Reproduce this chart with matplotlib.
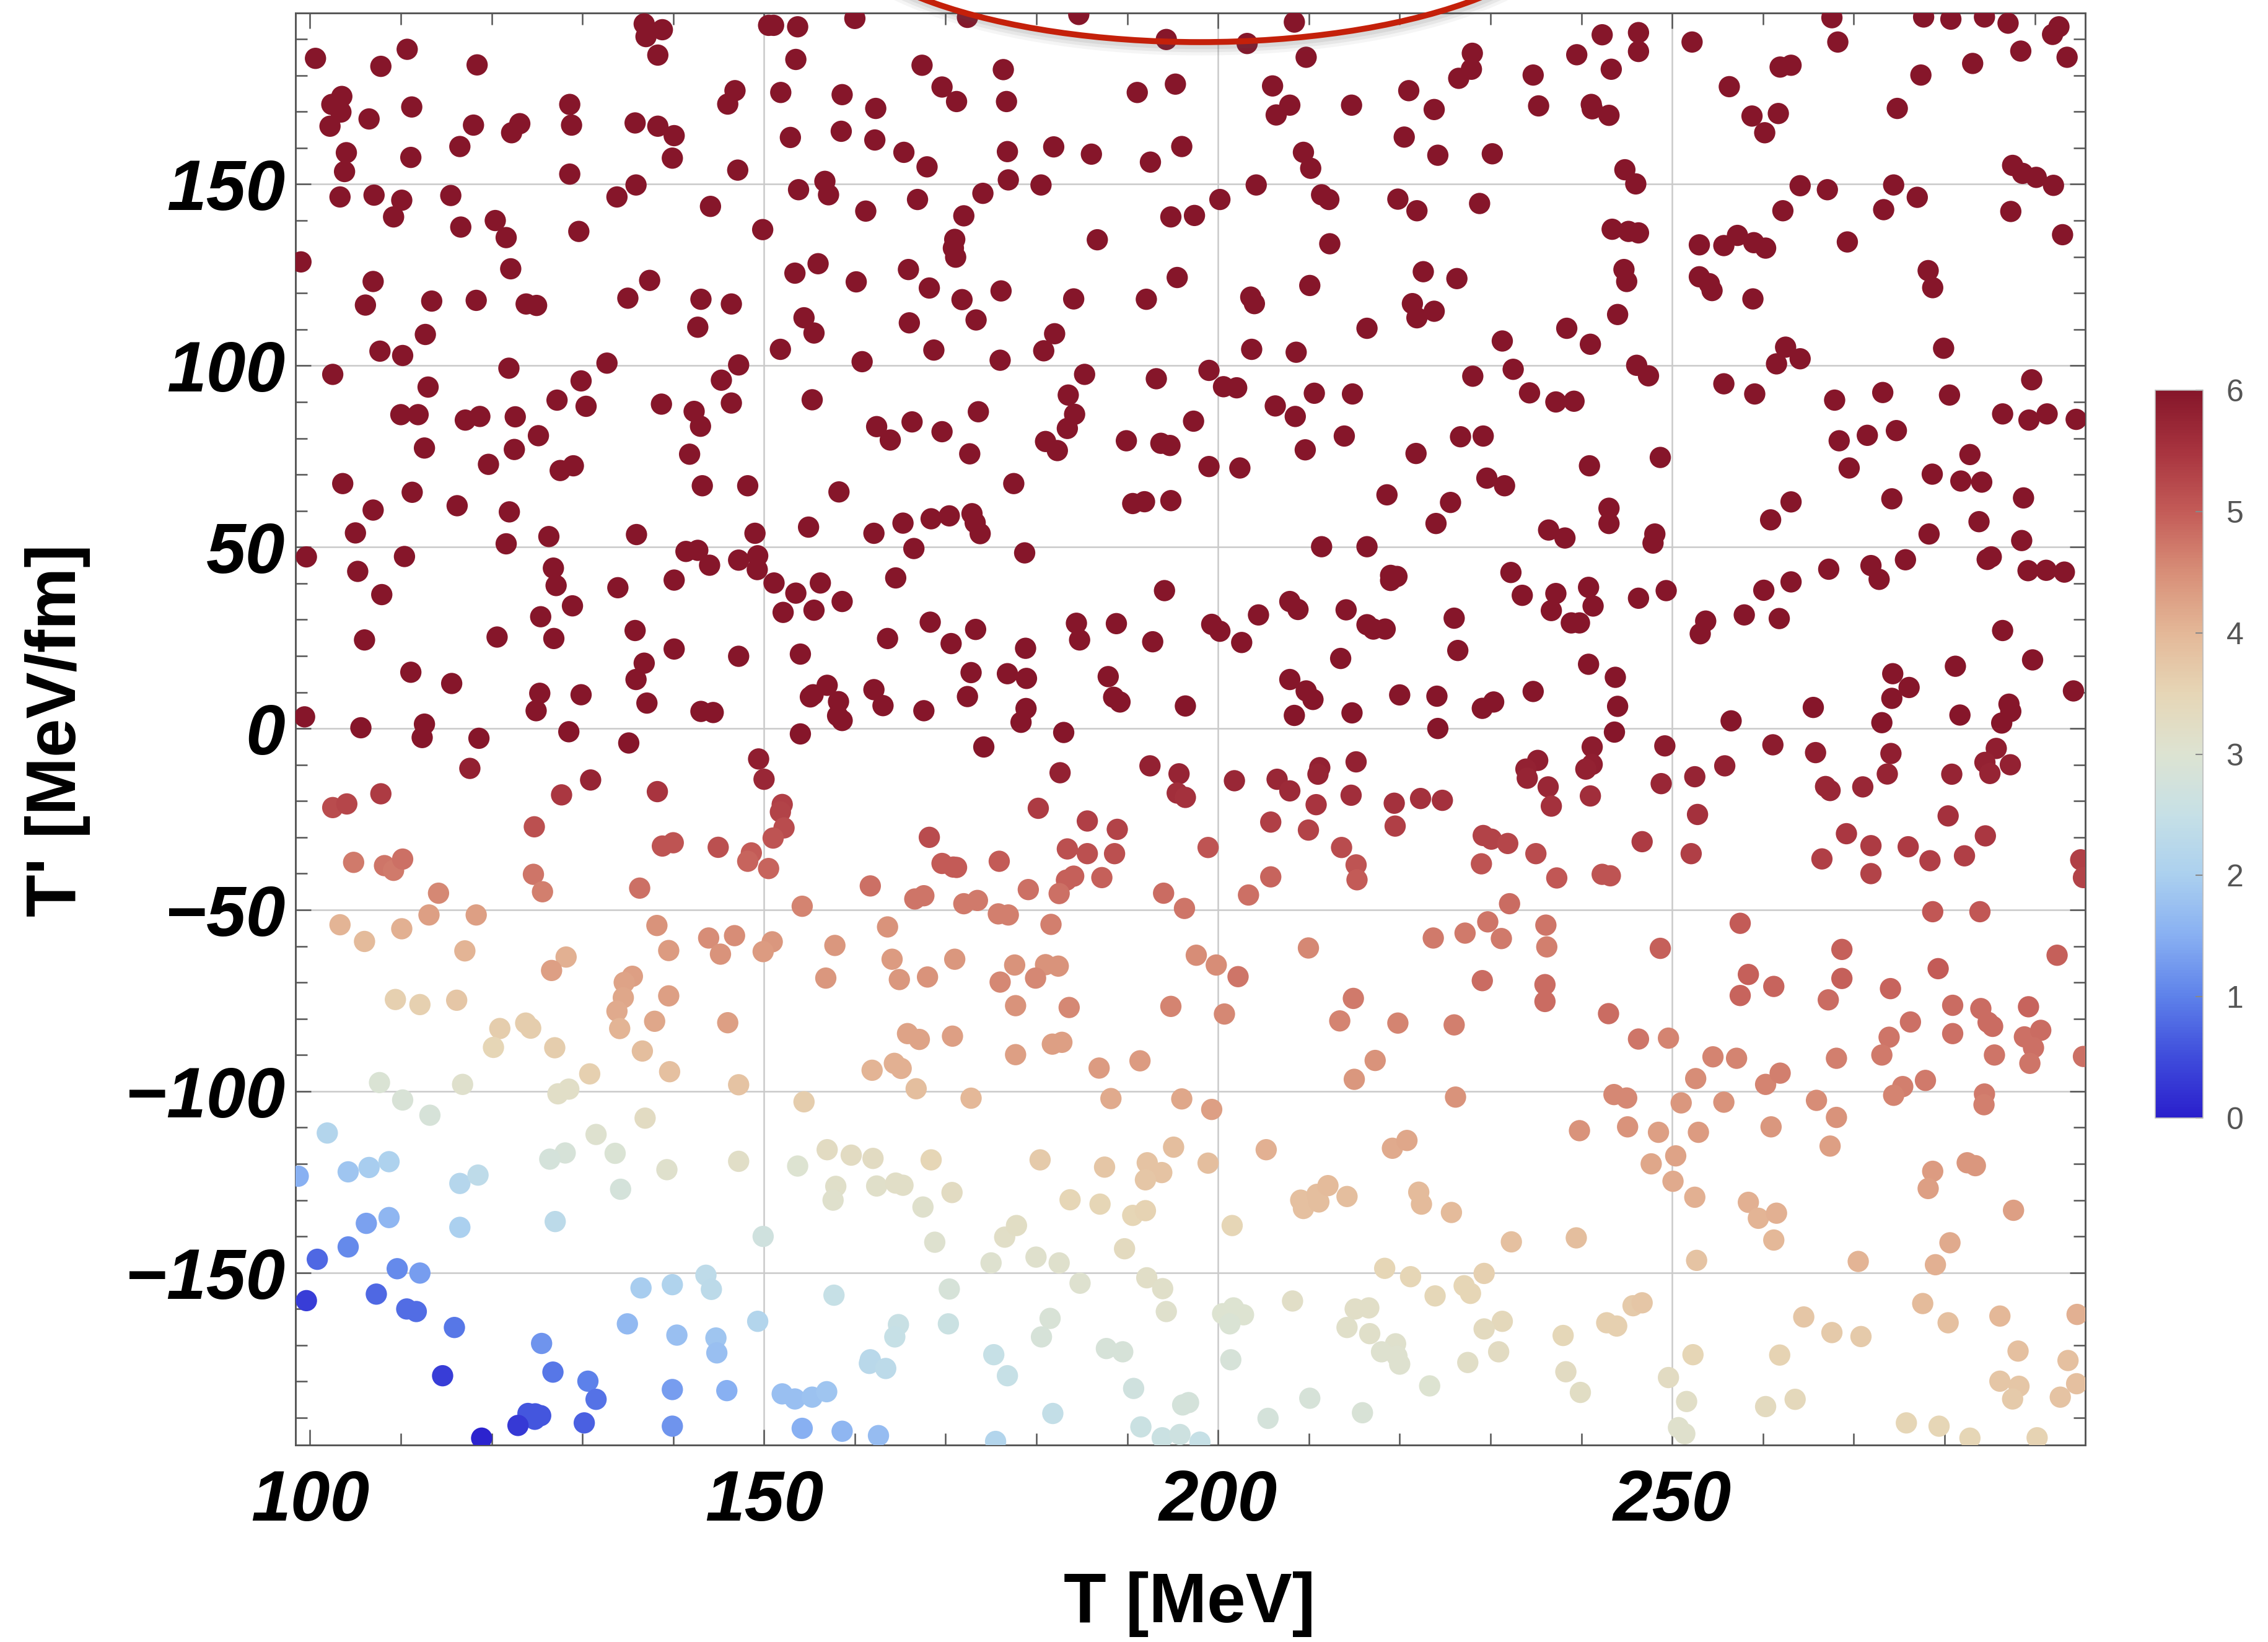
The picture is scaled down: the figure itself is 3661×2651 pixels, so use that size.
import matplotlib
matplotlib.use("Agg")
import numpy as np
import matplotlib.pyplot as plt
from matplotlib.colors import LinearSegmentedColormap, Normalize
from matplotlib.cm import ScalarMappable
from matplotlib.patches import Ellipse

# ---------------------------------------------------------------------------
# Sampled points (T in MeV, T' in MeV/fm).
# Upper set: colour value saturated at the top of the scale.
# ---------------------------------------------------------------------------
T_sat = [
    136.8, 138.8, 137.0, 138.3, 100.6, 110.7, 107.8, 118.4, 103.5, 102.4,
    103.4, 102.2, 106.5, 111.2, 118.0, 123.1, 122.2, 128.6, 128.8, 135.8,
    138.3, 140.1, 139.9, 146.8, 146.0, 104.0, 111.1, 116.5, 103.8, 128.6,
    147.1, 135.9, 103.3, 107.05, 110.1, 109.2, 115.5, 133.8, 144.1, 116.6,
    120.4, 121.6, 129.6, 99.0, 122.1, 106.95, 137.4, 106.1, 113.4, 118.3,
    123.8, 124.95, 135.0, 143.05, 146.4, 142.7, 112.7, 107.7, 110.2, 102.5,
    121.9, 132.7, 147.2, 113.0, 129.85, 145.3, 127.2, 130.4, 138.7, 146.4,
    110.0, 111.9, 117.1, 118.7, 122.6, 142.3, 143.0, 125.15, 112.6, 122.5,
    141.8, 119.65, 127.55, 129.0, 103.6, 143.2,
    150.5, 151.05, 153.7, 160.0, 172.4, 184.66, 194.3, 153.5, 167.4, 176.35,
    169.6, 171.2, 176.7, 151.84, 158.6, 162.3, 191.1, 195.3, 152.9, 158.5,
    162.2, 165.4, 167.95, 176.8, 181.9, 186.05, 192.55, 196.0, 176.9, 180.5,
    153.8, 156.7, 157.1, 161.2, 166.9, 174.1, 172.0, 194.8, 149.85, 171.0,
    170.85, 171.1, 186.7, 153.4, 155.95, 160.15, 165.9, 168.2, 171.8, 176.1,
    184.1, 192.1, 195.5, 154.4, 155.5, 166.0, 173.35, 182.0, 180.8, 151.8,
    160.8, 168.7, 176.0, 185.3, 193.2, 155.3, 183.5, 184.2, 183.4, 173.6,
    162.4, 163.9, 166.3, 169.6, 172.65, 181.0, 182.3, 189.9, 193.7, 194.7,
    148.2, 177.5,
    208.4, 203.2, 209.7, 206.0, 207.9, 206.4, 214.7, 221.0, 223.8, 228.0,
    227.9, 226.5, 234.7, 235.3, 239.5, 242.3, 243.3, 246.3, 246.3, 241.1,
    241.2, 243.05, 220.5, 224.2, 230.2, 209.4, 210.2, 204.2, 200.2, 197.4,
    211.4, 212.2, 219.8, 221.9, 228.8, 244.8, 246.0, 212.3, 243.4, 245.2,
    246.3, 222.6, 226.3, 244.7, 245.0, 203.6, 204.0, 210.1, 221.4, 221.9,
    223.8, 244.0, 216.4, 238.4, 241.0, 231.3, 203.7, 208.6, 199.0, 200.6,
    202.05, 210.6, 214.8, 228.05, 232.5, 234.3, 237.2, 239.2, 246.1, 197.3,
    206.3, 208.5, 213.9, 209.6, 226.7, 229.2, 221.8, 240.9, 199.0, 202.4,
    229.6, 231.55,
    252.2, 267.6, 268.25, 277.7, 280.7, 284.4, 287.0, 291.9, 292.6, 288.4,
    293.5, 283.1, 277.4, 261.9, 263.1, 256.3, 258.8, 261.7, 260.2, 274.8,
    287.5, 288.6, 290.1, 292.0, 264.1, 267.1, 274.4, 277.0, 262.2, 273.3,
    287.3, 293.0, 253.0, 255.7, 257.2, 259.0, 260.3, 269.3, 253.0, 254.1,
    254.4, 258.9, 278.2, 278.7, 262.5, 264.1, 261.5, 279.9, 247.4, 255.7,
    259.1, 267.9, 273.2, 280.55, 289.6, 286.4, 289.3, 291.3, 294.5, 268.4,
    271.5, 274.7, 248.7, 269.5, 282.8, 278.65, 281.8, 284.1,
    111.25, 106.95, 116.2, 121.95, 105.0, 121.6, 126.3, 135.95, 99.6, 110.4,
    105.25, 126.8, 127.1, 133.9, 141.4, 142.7, 144.0, 140.1, 147.2, 107.9,
    128.9, 125.4, 106.0, 120.6, 126.85, 135.8, 140.1, 147.2, 111.1, 115.6,
    136.8, 135.9, 125.3, 124.9, 129.85, 137.1, 143.05, 144.4, 99.4, 105.6,
    112.6, 112.35, 118.6, 128.5, 135.1,
    158.25, 190.6, 191.9, 194.8, 149.0, 154.9, 162.1, 165.3, 168.4, 170.4,
    172.9, 173.25, 173.8, 166.5, 178.7, 149.3, 149.25, 151.1, 153.5, 156.2,
    152.1, 155.5, 158.6, 164.5, 194.1, 168.3, 173.3, 170.6, 163.6, 184.4,
    184.75, 188.8, 192.8, 178.8, 154.0, 172.8, 176.8, 178.9, 187.9, 188.5,
    189.2, 196.4, 156.95, 155.4, 155.1, 158.2, 158.1, 158.6, 162.1, 163.1,
    167.6, 172.4, 178.85, 178.3, 154.0, 183.0, 174.2,
    218.6, 225.6, 224.0, 243.05, 243.05, 236.4, 238.2, 211.4, 216.4, 232.25,
    219.0, 219.7, 219.0, 233.5, 237.2, 236.7, 240.8, 241.3, 238.9, 239.8,
    246.3, 207.9, 208.8, 204.45, 214.1, 199.3, 200.2, 202.6, 216.4, 217.1,
    218.4, 226.0, 226.4, 213.5, 240.8, 243.75, 244.0, 243.65, 207.9, 209.7,
    210.45, 208.4, 214.75, 220.0, 224.1, 224.2, 229.1, 230.35, 234.7,
    263.1, 260.85, 274.2, 288.7, 283.8, 278.3, 288.5, 248.1, 247.9, 249.35,
    275.7, 267.25, 271.9, 272.8, 284.7, 285.15, 289.2, 291.2, 293.2, 260.1,
    263.1, 253.7, 253.1, 257.95, 261.8, 286.4, 289.7, 281.2, 274.3, 276.1,
    274.2, 294.2, 265.55, 256.5, 273.1, 281.7, 287.1, 287.3, 286.3,
]
Tp_sat = [
    194.2, 192.6, 190.7, 185.6, 184.7, 187.2, 182.5, 182.9, 174.2, 172.0,
    169.9, 166.0, 168.0, 171.3, 166.3, 166.7, 164.2, 172.0, 166.3, 166.9,
    166.0, 163.4, 157.2, 175.8, 172.1, 158.7, 157.4, 160.4, 153.5, 152.8,
    153.9, 149.8, 146.5, 147.0, 145.6, 141.0, 146.9, 146.5, 143.9, 138.2,
    140.0, 135.3, 137.0, 128.6, 126.7, 123.2, 123.5, 116.7, 117.8, 118.0,
    117.0, 116.6, 118.6, 118.3, 117.0, 110.6, 108.6, 104.0, 102.8, 97.6,
    99.3, 100.7, 100.2, 94.1, 95.8, 96.0, 90.5, 88.8, 89.4, 89.7,
    86.5, 86.5, 85.0, 86.0, 85.9, 87.4, 83.3, 80.7, 77.3, 76.9,
    75.6, 72.8, 71.1, 72.4, 67.5, 66.9,
    193.8, 193.8, 193.4, 195.7, 196.0, 196.8, 189.9, 184.4, 182.8, 181.6,
    176.8, 172.8, 172.8, 175.3, 174.7, 170.9, 175.3, 177.6, 162.9, 164.6,
    162.2, 158.8, 154.8, 159.0, 160.3, 158.3, 156.1, 160.4, 151.2, 149.8,
    148.5, 150.8, 147.1, 142.6, 145.8, 147.5, 141.3, 141.0, 137.5, 134.8,
    132.4, 129.9, 134.7, 125.5, 128.1, 123.1, 126.5, 121.4, 118.2, 120.6,
    118.4, 118.3, 124.3, 113.2, 109.0, 111.8, 112.6, 108.8, 104.1, 104.5,
    101.1, 104.3, 101.5, 97.6, 96.4, 90.6, 91.9, 86.6, 82.7, 87.3,
    83.2, 79.5, 84.5, 81.8, 75.7, 79.1, 76.6, 79.3, 78.6, 78.0,
    66.9, 67.5,
    194.7, 188.8, 185.0, 177.1, 171.8, 169.1, 171.8, 175.8, 170.6, 186.1,
    181.7, 179.2, 180.1, 171.6, 185.7, 191.2, 181.7, 191.8, 186.6, 172.0,
    170.8, 169.0, 163.0, 158.0, 158.4, 158.8, 154.4, 149.8, 145.8, 141.4,
    147.1, 145.8, 145.9, 142.7, 144.7, 154.0, 150.1, 133.6, 137.6, 137.0,
    136.6, 125.9, 124.0, 126.5, 123.2, 118.9, 117.1, 122.1, 117.1, 113.2,
    115.0, 114.1, 110.3, 110.3, 105.9, 106.8, 104.5, 103.7, 98.7, 94.2,
    93.9, 92.4, 92.2, 97.1, 99.0, 92.5, 90.0, 90.2, 100.1, 84.7,
    88.9, 86.0, 80.6, 76.8, 80.4, 80.6, 75.8, 72.4, 72.2, 71.8,
    69.0, 66.9,
    189.2, 195.9, 189.2, 196.1, 195.5, 196.1, 194.4, 191.3, 193.4, 186.7,
    185.0, 183.3, 180.1, 182.3, 182.8, 176.9, 168.8, 169.5, 164.2, 170.9,
    155.2, 153.0, 151.9, 149.7, 149.6, 148.5, 149.8, 146.4, 142.7, 143.0,
    142.5, 136.1, 133.3, 133.1, 135.9, 133.9, 132.4, 134.1, 124.5, 122.6,
    120.7, 118.4, 126.2, 121.5, 105.1, 101.9, 100.5, 104.8, 97.2, 95.0,
    92.2, 90.5, 92.6, 91.9, 96.1, 86.7, 85.0, 86.7, 85.2, 79.3,
    80.8, 82.1, 74.7, 71.8, 75.5, 70.1, 68.2, 67.9,
    65.1, 60.2, 61.4, 59.7, 53.9, 50.9, 52.9, 53.45, 47.3, 47.4,
    43.3, 44.2, 39.4, 38.8, 48.8, 49.1, 45.0, 40.9, 46.4, 36.9,
    33.8, 30.8, 24.4, 25.2, 24.8, 27.0, 21.9, 19.9, 15.5, 12.4,
    18.0, 13.5, 9.7, 4.9, 9.3, 7.0, 4.7, 4.4, 3.2, 0.2,
    1.2, -2.5, -2.7, -0.9, -4.0,
    65.2, 62.0, 62.5, 62.8, 53.8, 55.5, 53.8, 56.6, 57.8, 58.6,
    59.2, 56.7, 53.7, 49.6, 48.4, 47.6, 43.8, 40.1, 37.3, 40.1,
    32.0, 32.6, 35.0, 41.5, 38.0, 29.3, 27.3, 23.4, 24.8, 29.0,
    24.4, 28.9, 23.9, 22.1, 20.5, 15.4, 15.1, 13.8, 14.3, 8.6,
    7.3, 6.2, 11.9, 9.3, 8.7, 7.4, 3.5, 2.2, 10.7, 6.3,
    4.9, 8.8, 5.5, 1.7, -1.5, -1.1, -5.1,
    64.4, 62.3, 56.5, 60.7, 56.5, 54.7, 52.5, 50.1, 50.1, 43.0,
    42.2, 41.9, 40.8, 36.7, 37.2, 32.5, 38.9, 33.75, 29.1, 29.1,
    35.9, 35.0, 32.8, 31.3, 32.7, 28.7, 26.8, 23.7, 28.6, 27.4,
    27.4, 30.4, 21.5, 19.3, 17.7, 14.1, 6.1, -1.0, 13.5, 10.35,
    8.0, 3.6, 4.3, 9.25, 8.9, 0.0, 5.55, 7.3, 10.2,
    62.45, 57.5, 63.3, 63.55, 57.0, 53.6, 51.8, 53.6, 51.1, 38.0,
    46.5, 43.9, 44.9, 41.1, 46.6, 47.3, 43.5, 43.6, 43.1, 38.1,
    40.4, 29.6, 26.1, 31.3, 30.3, 27.0, 18.9, 17.15, 15.1, 11.3,
    8.3, 10.35, 5.8, 2.1, 1.6, 3.7, 6.7, 4.7, 1.5,
]
C_SAT = 6.0

# Lower set: points with an individual colour value.
T_low = [
    117.6, 130.9, 107.8, 102.5, 104.05, 127.7, 138.25, 124.7, 138.8, 140.0,
    144.95, 104.8, 108.2, 109.2, 110.2, 124.6, 125.6, 114.15, 136.3, 103.3,
    106.0, 110.1, 113.1, 118.3, 117.05, 128.2, 138.2, 139.5, 143.9, 145.2,
    146.75,
    149.4, 150.0, 182.6, 192.5, 195.7, 195.5, 196.4, 152.0, 151.8, 152.2,
    151.0, 148.6, 148.2, 150.5, 180.2, 185.6, 188.9, 183.4, 185.6, 188.6,
    168.2, 169.6, 170.85, 171.2, 175.9, 183.3, 184.1, 187.2, 161.7, 166.6,
    167.6, 179.1, 182.5, 194.0, 196.3, 154.2, 172.0, 173.5, 175.8, 176.9,
    181.6, 163.6, 150.9, 149.9, 157.8, 164.1, 171.0, 177.6, 181.0, 182.4,
    241.2, 235.2, 233.9, 234.05, 241.2, 240.5, 236.35, 241.0, 236.7, 215.2,
    211.2, 211.0, 201.8, 206.5, 207.9, 210.8, 214.65, 219.4, 222.3, 224.7,
    219.5, 205.8, 209.95, 198.9, 213.6, 215.2, 215.3, 229.2, 230.1, 231.9,
    235.0, 229.0, 237.3, 242.3, 243.2, 205.8, 203.35, 232.1, 229.7, 227.2,
    223.7, 231.2, 236.1, 236.2, 209.95, 197.6, 199.8,
    249.2, 261.1, 265.8, 274.1, 285.7, 284.45, 285.0, 287.25, 280.8, 273.7,
    255.8, 252.5, 248.8, 266.9, 267.4, 271.0, 252.8, 280.4, 246.7, 252.1,
    269.2, 271.9, 276.0, 284.5, 282.2, 278.4, 266.5, 271.9, 295.0, 295.3,
    257.5, 278.7, 283.9, 248.7, 268.7, 292.4,
    126.6, 135.5, 134.6, 134.5, 133.8, 134.1, 139.5, 137.95, 146.0, 109.4,
    112.1, 116.15, 120.9, 123.75, 124.3, 120.2, 126.95, 136.6, 139.6, 130.8,
    147.2, 107.65, 116.8, 110.2, 113.2, 127.3, 128.5, 101.9, 136.9, 131.5,
    133.6, 128.1, 126.4, 139.3, 147.2, 134.2, 98.7, 104.2, 106.5, 108.7,
    116.5, 118.5, 127.0, 106.2, 108.7, 116.5, 104.2, 100.8, 109.6, 112.1,
    99.6, 107.3, 110.65, 111.7, 115.9, 125.5, 114.6, 126.75, 130.6, 131.5,
    124.0, 124.8, 125.4, 124.75, 122.9, 118.9, 130.2, 136.45, 139.9, 143.6,
    144.2, 134.95, 140.4, 144.7, 144.8, 139.9, 145.9, 139.9,
    156.8, 164.9, 168.0, 176.0, 179.9, 177.7, 183.6, 194.8, 165.8, 167.1,
    170.75, 177.7, 181.75, 182.8, 186.9, 191.4, 161.9, 164.35, 165.1, 166.75,
    154.4, 172.8, 188.2, 196.0, 195.1, 153.7, 156.95, 159.6, 162.0, 168.4,
    180.4, 187.5, 192.2, 193.8, 192.0, 157.9, 157.6, 162.4, 164.5, 165.3,
    167.5, 170.7, 183.7, 187.0, 190.6, 192.0, 149.9, 168.8, 176.5, 177.8,
    189.7, 175.0, 179.95, 182.5, 184.8, 192.15, 193.9, 194.3, 157.7, 170.4,
    149.3, 164.8, 164.4, 170.3, 181.5, 180.55, 187.7, 189.5, 161.7, 161.6,
    163.4, 175.3, 176.8, 190.7, 196.1, 196.75, 152.0, 153.4, 155.3, 156.9,
    154.2, 158.6, 162.6, 175.5, 181.8, 191.5, 193.85, 195.8,
    202.2, 200.7, 214.9, 213.4, 219.8, 226.0, 229.1, 236.0, 236.0, 243.0,
    246.3, 217.3, 215.0, 226.15, 243.6, 245.0, 239.8, 245.1, 199.3, 205.3,
    198.9, 219.2, 220.8, 209.1, 209.4, 210.9, 211.1, 212.1, 214.2, 222.1,
    222.4, 225.7, 201.55, 232.3, 239.45, 218.35, 221.2, 229.3, 227.1, 227.8,
    223.9, 208.2, 200.5, 201.7, 202.8, 201.3, 215.1, 216.6, 214.2, 216.7,
    219.55, 218.0, 219.7, 220.0, 245.7, 242.8, 243.9, 231.3, 229.3, 230.9,
    238.0, 227.5, 238.3, 239.9, 201.4, 223.3, 210.1, 205.5, 215.9, 198.0,
    258.4, 279.3, 257.5, 261.2, 268.7, 267.2, 274.05, 280.9, 284.0, 284.8,
    285.3, 289.25, 280.9, 276.25, 273.9, 273.1, 288.8, 290.6, 289.8, 289.4,
    285.5, 295.3, 249.6, 254.5, 257.1, 252.6, 260.3, 261.9, 268.1, 275.4,
    274.4, 277.9, 284.4, 284.35, 251.0, 255.7, 265.9, 268.1, 260.9, 248.5,
    252.9, 267.4, 247.7, 250.4, 250.1, 252.5, 258.4, 259.5, 261.5, 261.2,
    278.7, 278.2, 282.5, 283.4, 287.6, 280.6, 279.0, 270.5, 252.7, 246.7,
    264.5, 267.6, 270.8, 277.6, 280.4, 286.1, 294.6, 288.1, 293.6, 286.1,
    288.2, 287.5, 292.75, 294.55, 252.3, 261.85, 249.6, 251.6, 260.3, 263.55,
    250.7, 251.4, 275.8, 279.4, 282.8, 290.2,
]
Tp_low = [
    -11.0, -14.2, -18.0, -21.8, -20.8, -18.3, -17.4, -27.1, -32.4, -31.5,
    -32.75, -36.9, -37.8, -39.1, -36.0, -40.2, -45.0, -45.4, -44.0, -54.1,
    -58.7, -55.2, -51.4, -51.4, -61.3, -63.0, -54.3, -61.2, -57.75, -62.2,
    -57.1,
    -8.4, -14.0, -12.2, -10.3, -12.5, -17.8, -19.0, -20.95, -23.0, -27.4,
    -30.2, -34.3, -36.6, -38.6, -22.0, -25.5, -27.8, -33.2, -34.5, -34.5,
    -30.0, -37.2, -38.2, -38.3, -36.6, -41.8, -40.7, -41.1, -43.4, -47.0,
    -46.1, -44.4, -45.5, -45.4, -49.6, -49.0, -48.3, -47.4, -51.1, -51.4,
    -54.0, -54.7, -58.8, -61.5, -59.8, -63.6, -63.6, -65.2, -65.1, -65.5,
    -5.1, -8.8, -11.2, -13.7, -9.9, -11.2, -16.1, -18.6, -21.4, -9.2,
    -10.8, -12.6, -14.4, -14.0, -17.2, -21.0, -18.4, -20.6, -19.3, -19.8,
    -26.9, -25.8, -28.0, -32.8, -32.8, -37.6, -41.7, -29.5, -30.5, -31.7,
    -34.5, -37.3, -41.2, -40.2, -40.6, -40.9, -45.9, -48.3, -53.3, -56.4,
    -57.75, -57.9, -54.2, -60.2, -60.5, -62.5, -65.2,
    -4.8, -4.5, -6.65, -6.9, -5.5, -9.35, -12.4, -10.0, -12.6, -12.55,
    -10.3, -13.3, -15.2, -16.0, -17.1, -16.1, -23.7, -24.1, -31.2, -34.5,
    -29.0, -32.3, -32.6, -29.6, -35.1, -36.45, -35.95, -40.0, -36.2, -41.1,
    -53.7, -50.5, -50.5, -60.6, -60.9, -62.5,
    -66.7, -68.3, -70.0, -74.2, -77.9, -82.7, -73.7, -80.7, -81.1, -74.7,
    -76.1, -74.9, -82.7, -81.2, -82.6, -87.9, -88.0, -88.9, -94.6, -95.2,
    -98.2, -97.6, -98.1, -102.4, -106.6, -100.7, -99.4, -111.5, -107.4, -111.9,
    -117.1, -117.0, -118.7, -121.6, -119.3, -127.0, -123.4, -122.2, -121.0, -119.4,
    -125.4, -123.1, -135.9, -136.4, -134.8, -137.5, -142.9, -146.3, -148.9, -150.1,
    -157.7, -155.9, -160.0, -160.7, -165.1, -169.5, -178.4, -177.4, -179.9, -184.9,
    -188.8, -188.9, -189.4, -190.4, -192.1, -195.6, -191.4, -154.2, -153.3, -150.7,
    -154.6, -164.1, -167.2, -168.0, -172.1, -182.2, -182.5, -192.3,
    -68.8, -69.2, -68.5, -69.9, -68.8, -76.4, -76.9, -76.6, -84.1, -85.7,
    -84.8, -89.9, -87.0, -86.5, -93.6, -91.6, -94.2, -92.3, -93.7, -99.3,
    -102.9, -101.9, -102.0, -102.1, -115.4, -120.6, -116.1, -117.6, -118.5, -118.9,
    -118.9, -120.9, -119.7, -122.4, -124.4, -126.2, -130.0, -126.1, -125.3, -125.9,
    -131.9, -127.9, -129.9, -131.1, -134.2, -132.9, -140.0, -141.6, -140.2, -137.0,
    -143.4, -147.3, -145.7, -147.3, -152.9, -151.4, -154.4, -160.7, -156.2, -154.5,
    -163.4, -164.3, -167.7, -164.1, -162.6, -167.7, -170.9, -171.8, -174.0, -175.0,
    -176.4, -172.6, -178.4, -181.9, -186.45, -185.8, -183.4, -184.8, -184.3, -182.8,
    -192.9, -193.7, -194.9, -196.5, -188.8, -192.5, -195.5, -194.6,
    -68.4, -78.7, -74.4, -80.6, -81.2, -81.7, -69.5, -70.6, -75.25, -78.6,
    -85.6, -91.5, -96.7, -101.6, -100.9, -101.85, -110.85, -109.8, -105.0, -116.1,
    -119.8, -115.7, -113.55, -130.0, -132.3, -128.4, -130.5, -126.0, -129.0, -127.8,
    -131.1, -133.4, -137.0, -141.5, -140.4, -148.8, -151.1, -150.2, -153.6, -155.7,
    -156.4, -157.8, -161.3, -159.7, -161.6, -164.1, -160.0, -159.7, -165.1, -166.8,
    -169.6, -171.8, -173.0, -175.2, -159.1, -163.8, -164.7, -163.4, -165.5, -171.8,
    -167.3, -174.75, -177.3, -183.0, -174.0, -181.2, -184.6, -190.15, -188.6, -196.7,
    -67.8, -66.2, -73.6, -71.1, -68.9, -74.8, -71.7, -76.3, -77.2, -81.0,
    -82.1, -76.7, -84.1, -80.9, -85.1, -90.0, -85.0, -83.2, -88.0, -92.3,
    -90.0, -90.4, -85.35, -90.5, -90.9, -96.5, -98.1, -95.0, -90.9, -98.7,
    -101.1, -97.0, -100.75, -103.7, -103.2, -103.0, -102.5, -107.2, -109.8, -111.3,
    -111.3, -115.1, -120.0, -117.8, -124.8, -129.2, -130.6, -135.0, -133.6, -141.0,
    -122.05, -126.8, -119.7, -120.5, -132.8, -141.75, -147.8, -146.9, -146.6, -158.3,
    -162.2, -166.5, -167.6, -158.5, -163.8, -161.95, -161.5, -171.6, -174.2, -179.9,
    -181.3, -184.8, -184.3, -180.6, -172.6, -172.7, -178.9, -185.5, -186.9, -184.9,
    -192.7, -194.4, -191.4, -192.3, -195.6, -195.5,
]
C_low = [
    5.8, 5.75, 5.4, 5.2, 5.25, 5.45, 5.5, 5.15, 5.1, 5.1,
    5.15, 4.7, 4.75, 4.7, 4.8, 4.75, 4.65, 4.55, 4.8, 4.05,
    3.95, 4.1, 4.3, 4.3, 4.05, 4.1, 4.45, 4.35, 4.5, 4.45,
    4.5,
    5.85, 5.7, 5.8, 5.8, 5.75, 5.6, 5.55, 5.35, 5.3, 5.2,
    5.1, 5.0, 4.9, 4.9, 5.4, 5.35, 5.3, 5.15, 5.15, 5.15,
    5.2, 5.0, 5.0, 5.0, 5.0, 4.95, 4.95, 4.95, 4.8, 4.75,
    4.75, 4.8, 4.8, 4.85, 4.75, 4.6, 4.7, 4.7, 4.65, 4.65,
    4.65, 4.45, 4.4, 4.35, 4.4, 4.35, 4.4, 4.45, 4.45, 4.45,
    5.9, 5.85, 5.8, 5.75, 5.85, 5.8, 5.7, 5.6, 5.55, 5.8,
    5.8, 5.75, 5.7, 5.7, 5.65, 5.5, 5.6, 5.55, 5.55, 5.55,
    5.35, 5.35, 5.3, 5.1, 5.2, 5.1, 5.0, 5.3, 5.3, 5.25,
    5.2, 5.1, 5.05, 5.1, 5.1, 4.9, 4.8, 4.85, 4.75, 4.7,
    4.7, 4.7, 4.75, 4.65, 4.55, 4.5, 4.5,
    5.9, 5.9, 5.85, 5.85, 5.85, 5.8, 5.75, 5.8, 5.75, 5.75,
    5.8, 5.75, 5.7, 5.7, 5.7, 5.7, 5.55, 5.55, 5.4, 5.35,
    5.45, 5.4, 5.4, 5.45, 5.35, 5.35, 5.35, 5.3, 5.35, 5.3,
    5.0, 5.05, 5.05, 4.95, 4.95, 4.95,
    4.3, 4.3, 4.25, 4.2, 4.15, 4.05, 4.3, 4.2, 4.3, 3.6,
    3.6, 3.75, 3.65, 3.65, 3.65, 3.5, 3.65, 3.9, 3.85, 3.6,
    3.8, 2.95, 3.1, 2.9, 2.85, 3.2, 3.2, 2.15, 3.3, 3.05,
    2.95, 2.85, 2.8, 3.1, 3.2, 2.8, 1.5, 1.85, 1.95, 2.05,
    2.2, 2.35, 2.3, 1.35, 1.6, 2.0, 1.1, 0.75, 1.1, 1.3,
    0.35, 0.75, 0.8, 0.8, 0.9, 1.2, 0.35, 0.9, 1.0, 0.85,
    0.6, 0.6, 0.6, 0.6, 0.3, 0.05, 0.7, 1.95, 2.1, 2.35,
    2.3, 1.65, 1.75, 1.85, 1.75, 1.3, 1.5, 1.2,
    4.4, 4.4, 4.45, 4.55, 4.55, 4.45, 4.55, 4.6, 4.25, 4.25,
    4.3, 4.3, 4.3, 4.3, 4.35, 4.35, 4.05, 4.1, 4.1, 3.9,
    3.65, 4.0, 4.15, 4.2, 3.9, 3.0, 3.3, 3.3, 3.3, 3.5,
    3.7, 3.75, 3.8, 3.8, 3.75, 3.15, 3.1, 3.15, 3.2, 3.2,
    3.1, 3.3, 3.5, 3.5, 3.5, 3.55, 2.7, 3.05, 3.2, 3.25,
    3.35, 3.05, 3.1, 3.1, 3.05, 3.2, 3.15, 3.1, 2.5, 2.85,
    2.15, 2.55, 2.5, 2.6, 2.9, 2.85, 2.85, 2.85, 2.25, 2.25,
    2.3, 2.5, 2.5, 2.7, 2.8, 2.8, 1.75, 1.75, 1.8, 1.85,
    1.5, 1.6, 1.7, 2.15, 2.45, 2.6, 2.6, 2.65,
    4.75, 4.55, 4.7, 4.6, 4.6, 4.65, 4.85, 4.85, 4.85, 4.85,
    4.75, 4.45, 4.4, 4.45, 4.55, 4.55, 4.45, 4.45, 4.3, 4.1,
    3.9, 4.15, 4.2, 3.85, 3.85, 3.9, 3.9, 3.95, 3.9, 3.95,
    3.95, 3.95, 3.5, 3.85, 3.9, 3.5, 3.5, 3.6, 3.5, 3.5,
    3.45, 3.2, 3.0, 3.0, 3.0, 2.95, 3.2, 3.2, 3.15, 3.15,
    3.1, 3.05, 3.05, 3.05, 3.7, 3.6, 3.6, 3.4, 3.35, 3.3,
    3.45, 3.2, 3.3, 3.25, 2.85, 3.0, 2.85, 2.8, 2.9, 2.5,
    4.95, 5.0, 4.9, 4.9, 4.95, 4.85, 4.9, 4.85, 4.85, 4.85,
    4.85, 4.9, 4.8, 4.8, 4.75, 4.7, 4.8, 4.85, 4.8, 4.75,
    4.75, 4.8, 4.6, 4.6, 4.6, 4.5, 4.6, 4.65, 4.65, 4.65,
    4.6, 4.7, 4.7, 4.65, 4.4, 4.45, 4.5, 4.45, 4.4, 4.3,
    4.35, 4.3, 4.2, 4.25, 4.15, 4.1, 4.1, 4.05, 4.1, 4.0,
    4.35, 4.3, 4.4, 4.4, 4.3, 4.15, 4.1, 4.05, 3.8, 3.75,
    3.75, 3.7, 3.7, 3.95, 3.85, 4.0, 4.1, 3.85, 3.85, 3.75,
    3.75, 3.7, 3.8, 3.85, 3.5, 3.55, 3.3, 3.2, 3.35, 3.4,
    3.1, 3.1, 3.5, 3.5, 3.5, 3.55,
]

assert len(T_sat) == len(Tp_sat), (len(T_sat), len(Tp_sat))
assert len(T_low) == len(Tp_low) == len(C_low), (len(T_low), len(Tp_low), len(C_low))

x_ticks = [100, 150, 200, 250]
y_ticks = [-150, -100, -50, 0, 50, 100, 150]
x_grid = [150, 200, 250]
cbar_ticks = [0, 1, 2, 3, 4, 5, 6]

# Thermometer-style colour scale
cmap = LinearSegmentedColormap.from_list("thermo", [
    (0.0 / 6, "#2a1fcc"),
    (0.5 / 6, "#3f4ddc"),
    (1.0 / 6, "#5e82ea"),
    (1.5 / 6, "#88b0f2"),
    (2.0 / 6, "#abd0ef"),
    (2.5 / 6, "#c6e0e6"),
    (3.0 / 6, "#dde3d2"),
    (3.5 / 6, "#e6d6b6"),
    (4.0 / 6, "#e4b898"),
    (4.5 / 6, "#d88f78"),
    (5.0 / 6, "#c45c58"),
    (5.5 / 6, "#a8343f"),
    (6.0 / 6, "#86162a"),
])
norm = Normalize(0, 6)

W, H, DPI = 3661, 2651, 300
fig = plt.figure(figsize=(W / DPI, H / DPI), dpi=DPI)
ax = fig.add_axes([477 / W, 1 - 2333 / H, (3366 - 477) / W, (2333 - 21) / H])

T_all = np.concatenate([T_sat, T_low])
Tp_all = np.concatenate([Tp_sat, Tp_low])
C_all = np.concatenate([np.full(len(T_sat), C_SAT), C_low])

ax.scatter(T_all, Tp_all, c=C_all, cmap=cmap, norm=norm, s=68,
           edgecolors="none", zorder=3)

ax.set_xlim(98.4, 295.5)
ax.set_ylim(-197.5, 197.2)

grid_kw = dict(color="#c9c9c9", lw=0.6, zorder=1)
for gx in x_grid:
    ax.axvline(gx, **grid_kw)
for gy in y_ticks:
    ax.axhline(gy, **grid_kw)

frame_col = "#555555"
for sp in ax.spines.values():
    sp.set_color(frame_col)
    sp.set_linewidth(0.7)

ax.set_xticks(x_ticks)
ax.set_yticks(y_ticks)
ax.set_xticks(np.arange(100, 296, 10), minor=True)
ax.set_yticks(np.arange(-190, 197, 10), minor=True)
ax.tick_params(which="both", direction="in", top=True, right=True,
               color=frame_col, width=0.6)
ax.tick_params(which="major", length=6)
ax.tick_params(which="minor", length=4.6)
ax.tick_params(axis="x", which="major", pad=9)
ax.tick_params(axis="y", which="major", pad=4)

tick_font = dict(family=["Liberation Sans", "DejaVu Sans"], weight="bold",
                 style="italic", size=27.5)
ax.set_xticklabels([str(v) for v in x_ticks], fontdict=tick_font)
ax.set_yticklabels([str(v).replace("-", "\u2212") for v in y_ticks],
                   fontdict=tick_font)

label_font = dict(family=["Liberation Sans", "DejaVu Sans"], weight="bold",
                  size=27)
fig.text(0.5245, 1 - 2590 / H, "T [MeV]", ha="center", va="center",
         **label_font)
fig.text(93 / W, 1 - 1179 / H, "T' [MeV/fm]", ha="center", va="center",
         rotation=90, **label_font)

# Colour bar
cax = fig.add_axes([3479 / W, 1 - 1805 / H, 77 / W, 1175 / H])
cb = fig.colorbar(ScalarMappable(norm=norm, cmap=cmap), cax=cax,
                  ticks=cbar_ticks)
cb.outline.set_edgecolor("#bbbbbb")
cb.outline.set_linewidth(0.4)
cax.tick_params(direction="in", length=3, width=0.5, color="#888888",
                labelsize=12, labelcolor="#555555", pad=9)
for lab in cax.get_yticklabels():
    lab.set_family(["Liberation Sans", "DejaVu Sans"])

# Highlight ring at the top edge, with a soft shadow
ecx, ecy, ew, eh = 1937 / W, 1 + 149 / H, 1218 / W, 434 / H
for k, a in enumerate([0.10, 0.08, 0.06]):
    fig.add_artist(Ellipse((ecx + 2 / W, ecy - (5 + 2 * k) / H), ew, eh,
                           transform=fig.transFigure, fill=False,
                           ec="#555555", lw=3.0 + 1.5 * k, alpha=a,
                           zorder=9))
fig.add_artist(Ellipse((ecx, ecy), ew, eh, transform=fig.transFigure,
                       fill=False, ec="#c4200a", lw=2.3, zorder=10))

fig.savefig("out.png", dpi=DPI)
